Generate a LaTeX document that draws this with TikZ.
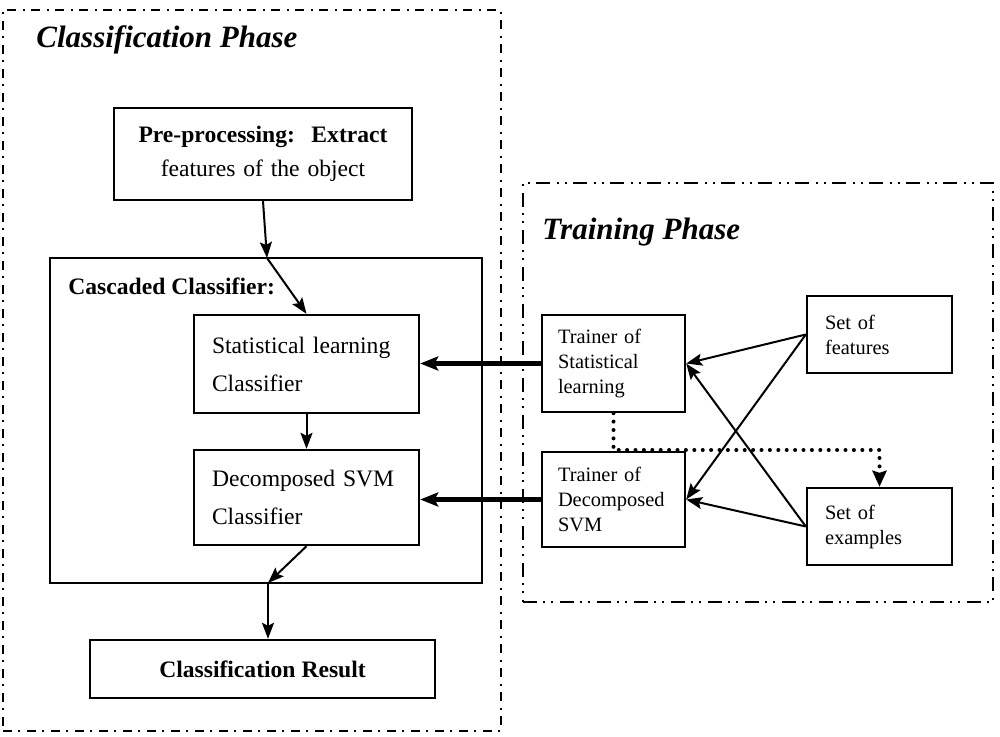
\documentclass[tikz,border=0pt]{standalone}
\usepackage{fontspec}
\setmainfont{Liberation Serif}
\usetikzlibrary{arrows.meta}
\newcommand{\wcolon}{:\hspace{0.7em}}

\begin{document}
\begin{tikzpicture}[x=0.5pt,y=-0.5pt,
  box/.style={draw, line width=1.2pt, fill=white, inner ysep=0pt, inner xsep=9pt, align=left},
  bodyfont/.style={font=\fontsize{11.8}{19}\selectfont},
  smallfont/.style={font=\fontsize{10.2}{12.5}\selectfont},
  phase/.style={font=\fontsize{15.5}{18}\selectfont\bfseries\itshape, inner sep=0pt},
  dashdot/.style={draw, line width=1.3pt, dash pattern=on 4.5pt off 3pt on 1pt off 3.5pt, inner sep=0pt},
  dashdotdot/.style={draw, line width=1.3pt, dash pattern=on 7pt off 3pt on 1pt off 3pt on 1pt off 3.5pt, inner sep=0pt},
  arr/.style={line width=1pt, -{Stealth[length=8pt,width=6pt,inset=1.5pt]}},
  thickarr/.style={line width=2.2pt, -{Stealth[length=9pt,width=7pt,inset=1.8pt]}},
  dotarr/.style={line width=2pt, line cap=round, dash pattern=on 0pt off 4.2pt,
    -{Stealth[length=8pt,width=7pt,inset=1pt]}}
]
\useasboundingbox (0,0) rectangle (1000,737);

% phase frames
\node[dashdot, minimum width=249pt, minimum height=360.5pt] (cphase) at (252,370.5) {};
\node[dashdotdot, minimum width=235pt, minimum height=209.5pt] (tphase) at (758,392.5) {};
\node[phase, anchor=base west] (ctitle) at (36,48) {Classification Phase};
\node[phase, anchor=base west] (ttitle) at (542,240) {Training Phase};

% classification side
\node[box, align=center, inner xsep=0pt, text width=149pt, minimum height=46pt, font=\fontsize{11.8}{17}\selectfont]
  (pre) at (263,154) {\textbf{Pre-processing\wcolon Extract}\\features of the object};
\node[draw, line width=1.2pt, minimum width=216pt, minimum height=162.5pt, inner sep=0pt] (casc) at (266,420.5) {};
\node[font=\fontsize{11.8}{19}\selectfont\bfseries, anchor=base west, inner sep=0pt] (casclabel) at (68,295) {Cascaded Classifier:};
\node[box, bodyfont, text width=94.5pt, minimum height=49pt] (stat) at (306.5,364) {Statistical learning\\Classifier};
\node[box, bodyfont, text width=94.5pt, minimum height=47.5pt] (dec) at (306.5,497.5) {Decomposed SVM\\Classifier};
\node[box, align=center, inner xsep=0pt, minimum width=172.5pt, minimum height=29pt, font=\fontsize{11.8}{14}\selectfont\bfseries]
  (res) at (262.5,669) {Classification Result};

% training side
\node[box, smallfont, inner xsep=8pt, text width=55.5pt, minimum height=48.5pt] (tstat) at (613.5,363.5) {Trainer of\\Statistical\\learning};
\node[box, smallfont, inner xsep=8pt, text width=55.5pt, minimum height=47.5pt] (tdec) at (613.5,499.5) {Trainer of\\Decomposed\\SVM};
\node[box, smallfont, text width=54.5pt, minimum height=38.5pt] (feat) at (879.5,334.5) {Set of\\features};
\node[box, smallfont, text width=54.5pt, minimum height=38.5pt] (ex) at (879.5,526.5) {Set of\\examples};

% classification flow
\coordinate (c1) at (267,258);
\coordinate (c2) at (268,583);
\draw[arr] (pre.south) -- (c1);
\draw[arr] (c1) -- (stat.north);
\draw[arr] (stat.south) -- (dec.north);
\draw[arr] (dec.south) -- (c2);
\draw[arr] (c2) -- (c2 |- res.north);

% trained models feed the classifiers
\draw[thickarr] (tstat.west) -- (tstat.west -| stat.east);
\draw[thickarr] (tdec.west) -- (tdec.west -| dec.east);

% data sets feed the trainers
\draw[arr] (feat.west) -- (tstat.east);
\draw[arr] (feat.west) -- (tdec.east);
\draw[arr] (ex.west) -- (tstat.east);
\draw[arr] (ex.west) -- (tdec.east);

% feedback to the example set
\coordinate (dk) at (879.5,450);
\draw[dotarr] (tstat.south) |- (dk) -- (ex.north);
\end{tikzpicture}
\end{document}
